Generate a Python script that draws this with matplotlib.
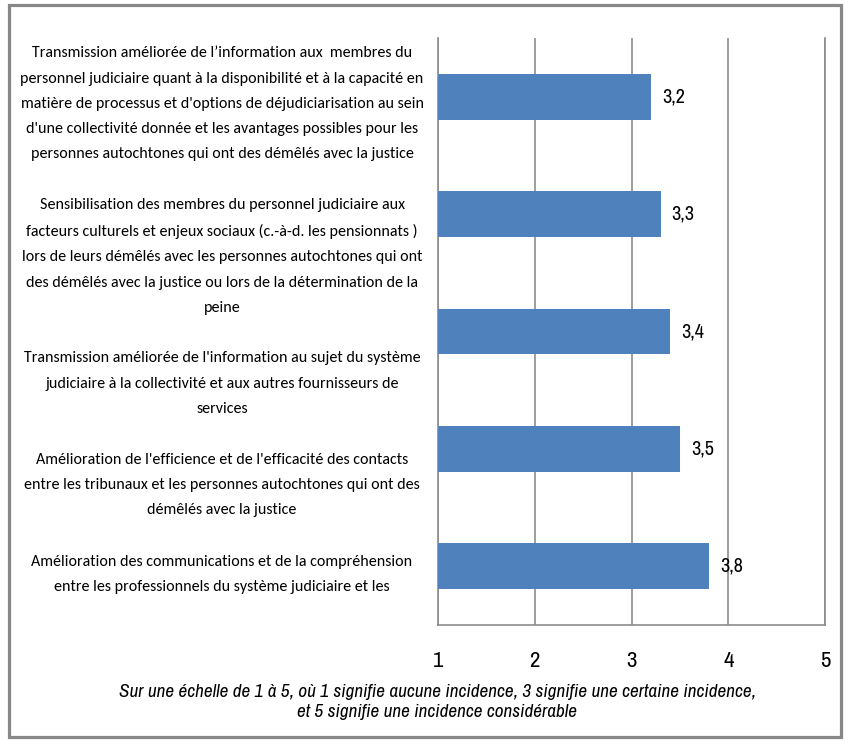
import numpy as np
import matplotlib.pyplot as plt
import matplotlib.transforms as mtransforms
from matplotlib.patches import Rectangle
from matplotlib import font_manager

# ------------ Data ------------
LABELS = [
    "Transmission améliorée de l’information aux  membres du\n"
    "personnel judiciaire quant à la disponibilité et à la capacité en\n"
    "matière de processus et d'options de déjudiciarisation au sein\n"
    "d'une collectivité donnée et les avantages possibles pour les\n"
    "personnes autochtones qui ont des démêlés avec la justice",
    "Sensibilisation des membres du personnel judiciaire aux\n"
    "facteurs culturels et enjeux sociaux (c.-à-d. les pensionnats )\n"
    "lors de leurs démêlés avec les personnes autochtones qui ont\n"
    "des démêlés avec la justice ou lors de la détermination de la\n"
    "peine",
    "Transmission améliorée de l'information au sujet du système\n"
    "judiciaire à la collectivité et aux autres fournisseurs de\n"
    "services",
    "Amélioration de l'efficience et de l'efficacité des contacts\n"
    "entre les tribunaux et les personnes autochtones qui ont des\n"
    "démêlés avec la justice",
    "Amélioration des communications et de la compréhension\n"
    "entre les professionnels du système judiciaire et les",
]
VALUES = [3.2, 3.3, 3.4, 3.5, 3.8]
XTICKS = [1, 2, 3, 4, 5]
CAPTION = ("Sur une échelle de 1 à 5, où 1 signifie aucune incidence, 3 signifie une certaine incidence,\n"
           "et 5 signifie une incidence considérable")

BAR_COLOR = "#4F81BD"
GRID_COLOR = "#8C8C8C"


def pick_font(candidates):
    names = {f.name for f in font_manager.fontManager.ttflist}
    for c in candidates:
        if c in names:
            return c
    return "DejaVu Sans"


CALIBRI = pick_font(["Carlito", "Liberation Sans"])
NARROW = pick_font(["Archivo Narrow", "PT Sans Narrow", "Liberation Sans"])

fig = plt.figure(figsize=(8.5, 7.5), dpi=100)
ax = fig.add_axes([438 / 850, 1 - 625 / 750, 387 / 850, 587 / 750])

ypos = np.arange(len(VALUES))
ax.barh(ypos, VALUES, left=0, height=0.39, color=BAR_COLOR, zorder=3)
ax.set_xlim(1, 5)
ax.set_ylim(len(VALUES) - 0.5, -0.5)

ax.set_xticks(XTICKS)
ax.set_xticklabels([str(t) for t in XTICKS], fontsize=16.5, fontfamily=NARROW)
ax.tick_params(axis="x", length=0, pad=19)
ax.xaxis.grid(True, color=GRID_COLOR, linewidth=1.2, zorder=0)

ax.set_yticks(ypos)
ax.set_yticklabels(LABELS, fontsize=11.5, fontfamily=CALIBRI,
                   multialignment="center", ha="center", linespacing=2.02)
ax.tick_params(axis="y", length=0, pad=155.5)

# Excel drifts the wrapped category labels downward; mimic the offsets (px)
label_shift = [0, 35, 45, 29, 1]
for lab, dy in zip(ax.get_yticklabels(), label_shift):
    lab.set_transform(lab.get_transform() +
                      mtransforms.ScaledTranslation(0, -dy / 100, fig.dpi_scale_trans))

ax.spines["top"].set_visible(False)
for s in ["left", "bottom", "right"]:
    ax.spines[s].set_color(GRID_COLOR)
    ax.spines[s].set_linewidth(1.2)

for y, v in zip(ypos, VALUES):
    ax.annotate(f"{v:.1f}".replace(".", ","), (v, y), xytext=(8, 0),
                textcoords="offset points", va="center", ha="left",
                fontsize=14.5, fontfamily=NARROW)

fig.text(437 / 850, 1 - 702 / 750, CAPTION, ha="center", va="center",
         fontsize=13.8, fontstyle="italic", fontfamily=NARROW, linespacing=1.35)

# frame around the whole chart
fig.patches.append(Rectangle((8.5 / 850, 1 - 737 / 750), 832 / 850, 732.5 / 750,
                             transform=fig.transFigure, fill=False,
                             edgecolor="#888888", linewidth=2.3))

fig.savefig("out.png", dpi=100)
